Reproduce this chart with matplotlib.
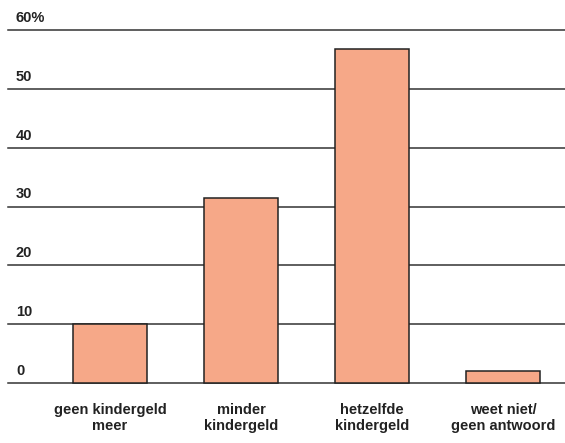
import matplotlib
matplotlib.use("Agg")
import matplotlib.pyplot as plt

categories = ["geen kindergeld\nmeer", "minder\nkindergeld", "hetzelfde\nkindergeld", "weet niet/\ngeen antwoord"]
values = [10, 31.5, 56.8, 2]
yticks = [0, 10, 20, 30, 40, 50, 60]
ylabels = ["0", "10", "20", "30", "40", "50", "60%"]

plt.rcParams['font.family'] = ['Liberation Sans Narrow', 'Liberation Sans', 'DejaVu Sans']

fig = plt.figure(figsize=(5.65, 4.43), dpi=100)
ax = fig.add_axes([8/565, 1-383/443, 1-8/565, (383-30)/443])

for y in yticks:
    ax.axhline(y, color="#333333", lw=1.1, zorder=1, clip_on=False)

x = range(len(categories))
ax.bar(x, values, width=0.56, color="#F6A888", edgecolor="#222222", lw=1.1, zorder=2, clip_on=False)

ax.set_xlim(-0.779, 3.473)
ax.set_ylim(0, 60)
ax.axis("off")

for y, lab in zip(yticks, ylabels):
    ax.annotate(lab, xy=(0, y), xycoords=("axes fraction", "data"),
                xytext=(8, 5), textcoords="offset pixels",
                ha="left", va="bottom", fontsize=10.5, fontweight="bold", color="#222222")

for xi, lab in zip(x, categories):
    ax.annotate(lab, xy=(xi, 0), xycoords="data", xytext=(0, -20),
                textcoords="offset pixels", ha="center", va="top",
                fontsize=10.5, fontweight="bold", color="#222222", linespacing=1.2)

fig.savefig("out.png", dpi=100)
